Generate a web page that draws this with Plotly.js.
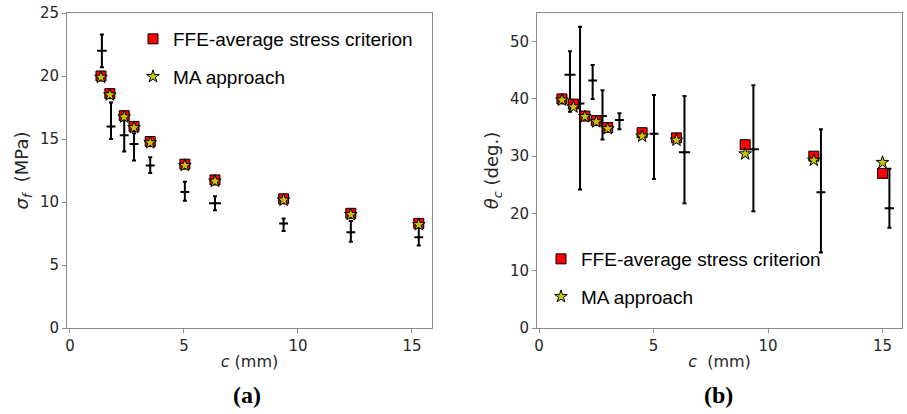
<!DOCTYPE html>
<html>
<head>
<meta charset="utf-8">
<script src="https://cdn.plot.ly/plotly-3.0.1.min.js"></script>
<style>html,body{margin:0;padding:0;background:#fff;}#chart{width:907px;height:414px;}</style>
</head>
<body>
<div id="chart"></div>
<script>
// ---- Panel (a): failure stress sigma_f vs crack length c ----
const cA_model = [1.36, 1.75, 2.38, 2.81, 3.52, 5.04, 6.36, 9.37, 12.32, 15.3];
const ffeA = [20.0, 18.6, 16.85, 16.0, 14.8, 13.0, 11.75, 10.25, 9.1, 8.3];
const maA = [19.9, 18.5, 16.75, 15.9, 14.7, 12.9, 11.65, 10.15, 9.0, 8.2];
const expA_x = [1.40, 1.80, 2.38, 2.81, 3.52, 5.04, 6.36, 9.37, 12.32, 15.3];
const expA_y = [22.0, 16.0, 15.3, 14.6, 12.9, 10.8, 9.9, 8.3, 7.6, 7.2];
const expA_errPlus = [1.3, 1.9, 1.55, 0.85, 0.65, 0.8, 0.55, 0.4, 0.9, 0.9];
const expA_errMinus = [1.3, 1.0, 1.3, 1.3, 0.6, 0.7, 0.55, 0.6, 0.75, 0.65];
const expA_xerr = [0.17, 0.15, 0.15, 0.15, 0.15, 0.15, 0.22, 0.15, 0.15, 0.15];

// ---- Panel (b): crack angle theta_c vs crack length c ----
const cB_model = [1, 1.5, 2, 2.5, 3, 4.5, 6, 9, 12, 15];
const ffeB = [40.0, 39.1, 37.0, 36.2, 35.0, 34.1, 33.2, 32.0, 30.0, 27.0];
const maB = [39.8, 38.6, 36.9, 36.0, 34.8, 33.5, 32.8, 30.4, 29.3, 28.9];
const expB_x = [1.35, 1.79, 2.34, 2.77, 3.51, 5.02, 6.35, 9.36, 12.31, 15.3];
const expB_y = [44.2, 39.2, 43.2, 37.0, 36.3, 33.9, 30.7, 31.2, 23.7, 20.9];
const expB_errPlus = [4.1, 13.4, 2.7, 4.5, 1.2, 6.8, 9.8, 11.2, 11.0, 6.9];
const expB_errMinus = [6.45, 15.0, 3.2, 4.1, 1.6, 7.9, 8.9, 10.8, 10.5, 3.4];
const expB_xerr = [0.2, 0.15, 0.15, 0.15, 0.15, 0.15, 0.2, 0.2, 0.15, 0.16];

const legendNames = ["FFE-average stress criterion", "MA approach"];
const panelLabels = ["(a)", "(b)"];
const xTitles = ["<i>c</i> (mm)", "<i>c</i>  (mm)"];
const yTitles = ["<i>σ</i><sub><i>f</i></sub>  (MPa)", "<i>θ</i><sub><i>c</i></sub> (deg.)"];

const sqMarker = {symbol: "square", size: 10, color: "#ff0000", line: {color: "#000", width: 1}};
const starMarker = {symbol: "star", size: 9.5, color: "#c8c800", line: {color: "#000", width: 1}};

function expTrace(x, y, ep, em, xe, xa, ya) {
  return {
    x: x, y: y, xaxis: xa, yaxis: ya, type: "scatter", mode: "markers",
    marker: {size: 3, color: "#000"},
    error_y: {type: "data", symmetric: false, array: ep, arrayminus: em, color: "#000", thickness: 2, width: 2},
    error_x: {type: "data", array: xe, color: "#000", thickness: 2, width: 1},
    showlegend: false, hoverinfo: "skip"
  };
}

const data = [
  expTrace(expA_x, expA_y, expA_errPlus, expA_errMinus, expA_xerr, "x", "y"),
  {x: cA_model, y: ffeA, xaxis: "x", yaxis: "y", type: "scatter", mode: "markers", name: legendNames[0], marker: sqMarker, legend: "legend", legendgroup: "a1"},
  {x: cA_model, y: maA, xaxis: "x", yaxis: "y", type: "scatter", mode: "markers", name: legendNames[1], marker: starMarker, legend: "legend", legendgroup: "a2"},
  expTrace(expB_x, expB_y, expB_errPlus, expB_errMinus, expB_xerr, "x2", "y2"),
  {x: cB_model, y: ffeB, xaxis: "x2", yaxis: "y2", type: "scatter", mode: "markers", name: legendNames[0], marker: sqMarker, legend: "legend2", legendgroup: "b1"},
  {x: cB_model, y: maB, xaxis: "x2", yaxis: "y2", type: "scatter", mode: "markers", name: legendNames[1], marker: starMarker, legend: "legend2", legendgroup: "b2"}
];

const W = 907, H = 414;
const tickFont = {family: "DejaVu Sans", size: 15, color: "#262626"};
const xTitleFont = {family: "DejaVu Sans", size: 16, color: "#262626"};
const yTitleFont = {family: "DejaVu Sans", size: 18, color: "#262626"};
function axisCommon() {
  return {
    showline: true, mirror: true, linecolor: "#8c8c8c", linewidth: 1,
    ticks: "outside", ticklen: 4, tickcolor: "#8c8c8c", tickwidth: 1,
    showgrid: false, zeroline: false, tickfont: tickFont
  };
}
const yDom = [(H - 328) / H, (H - 13) / H];
const legFont = {family: "Liberation Sans", size: 19, color: "#000"};

const layout = {
  width: W, height: H,
  margin: {l: 0, r: 0, t: 0, b: 0},
  paper_bgcolor: "#fff", plot_bgcolor: "#fff",
  xaxis: Object.assign(axisCommon(), {domain: [67 / W, 432 / W], range: [-0.13, 15.88], tickvals: [0, 5, 10, 15], anchor: "y",
    title: {text: xTitles[0], font: xTitleFont, standoff: 1}}),
  yaxis: Object.assign(axisCommon(), {domain: yDom, range: [0, 25], tickvals: [0, 5, 10, 15, 20, 25], anchor: "x",
    title: {text: yTitles[0], font: yTitleFont, standoff: 6}}),
  xaxis2: Object.assign(axisCommon(), {domain: [537 / W, 902 / W], range: [-0.09, 15.85], tickvals: [0, 5, 10, 15], anchor: "y2",
    title: {text: xTitles[1], font: xTitleFont, standoff: 1}}),
  yaxis2: Object.assign(axisCommon(), {domain: yDom, range: [0, 55], tickvals: [0, 10, 20, 30, 40, 50], anchor: "x2",
    title: {text: yTitles[1], font: yTitleFont, standoff: 6}}),
  legend: {x: 133 / W, y: (H - 20) / H, xanchor: "left", yanchor: "top", font: legFont, bgcolor: "rgba(0,0,0,0)",
    traceorder: "grouped", tracegroupgap: 10, itemwidth: 30},
  legend2: {x: 541 / W, y: (H - 240) / H, xanchor: "left", yanchor: "top", font: legFont, bgcolor: "rgba(0,0,0,0)",
    traceorder: "grouped", tracegroupgap: 10, itemwidth: 30},
  annotations: [
    {text: "<b>" + panelLabels[0] + "</b>", x: 247 / W, y: (H - 395) / H, xref: "paper", yref: "paper", showarrow: false,
      xanchor: "center", yanchor: "middle", font: {family: "Liberation Serif", size: 24, color: "#000"}},
    {text: "<b>" + panelLabels[1] + "</b>", x: 718 / W, y: (H - 395) / H, xref: "paper", yref: "paper", showarrow: false,
      xanchor: "center", yanchor: "middle", font: {family: "Liberation Serif", size: 24, color: "#000"}}
  ]
};

Plotly.newPlot("chart", data, layout, {staticPlot: true, displayModeBar: false});
</script>
</body>
</html>
